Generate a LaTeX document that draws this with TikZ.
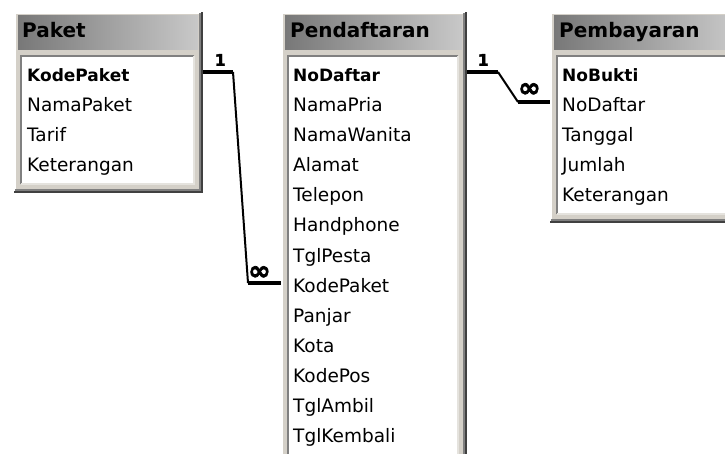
\documentclass[tikz,border=0pt]{standalone}
\usepackage{fontspec}
\setmainfont{DejaVu Sans}
\newfontfamily\heavyfont[FakeBold=2.5]{DejaVu Sans Bold}
\usetikzlibrary{positioning}
\definecolor{winface}{RGB}{212,208,200}
\definecolor{winshadow}{RGB}{128,128,128}
\definecolor{windark}{RGB}{64,64,64}
\definecolor{titledark}{RGB}{120,120,120}
\definecolor{titlelight}{RGB}{200,200,200}
% frame of one table window: left, top, right, bottom (pixels, y down)
\newcommand{\erdframe}[4]{%
  \fill[winface] (#1,#2) rectangle (#3,#4); % face
  \draw[white, line width=1.5] (#1+1,#4) -- (#1+1,#2+1) -- (#3,#2+1); % light edge
  \draw[windark, line width=1.5] (#1,#4-1) -- (#3-1,#4-1) -- (#3-1,#2); % dark edge
  \draw[winshadow, line width=1.5] (#1+1,#4-3) -- (#3-3,#4-3) -- (#3-3,#2+1);
  \shade[left color=titledark, right color=titlelight] (#1+4,#2+4) rectangle (#3-5,#2+38); % title bar
  \fill[white] (#1+7,#2+44) rectangle (#3-9,#4-9); % field list
  \draw[winshadow, line width=1.5] (#1+7,#4-9) -- (#1+7,#2+44) -- (#3-9,#2+44);
  \draw[winface!60, line width=1.5] (#1+7,#4-9) -- (#3-9,#4-9) -- (#3-9,#2+44);
}
\begin{document}
\begin{tikzpicture}[x = 1pt, y = -1pt,
  field/.style = {anchor = base west, inner sep = 0, font = \fontsize{18.5}{20}\selectfont},
  keyfield/.style = {field, font = \fontsize{17}{20}\selectfont\bfseries},
  tabletitle/.style = {anchor = base west, inner sep = 0, font = \fontsize{20}{22}\selectfont\bfseries},
  card/.style = {inner sep = 0, font = \fontsize{16}{16}\selectfont\heavyfont},
  crow/.style = {inner sep = 0, font = \fontsize{27}{27}\selectfont\heavyfont},
  one/.style = {line width = 4},
  many/.style = {line width = 2}]
	\useasboundingbox (0,0) rectangle (725,454);
	\begin{scope}
		\clip (0,0) rectangle (725,454);
		\erdframe{14}{12}{203}{193} %Paket
		\erdframe{281}{12}{467}{470} %Pendaftaran
		\erdframe{550}{12}{740}{223} %Pembayaran
	\end{scope}
	\node[tabletitle] (paket) at (22,38) {Paket};
	\node[tabletitle] (pendaftaran) at (290,38) {Pendaftaran};
	\node[tabletitle] (pembayaran) at (559,38) {Pembayaran};
	\node[keyfield] (paket-1) at (27,82) {KodePaket};
	\foreach \f [count = \i from 2] in {NamaPaket, Tarif, Keterangan}
		\node[field] (paket-\i) at (27,{82 + 30*(\i-1)}) {\f};
	\node[keyfield] (pendaftaran-1) at (293,82) {NoDaftar};
	\foreach \f [count = \i from 2] in {NamaPria, NamaWanita, Alamat, Telepon, Handphone, TglPesta, KodePaket, Panjar, Kota, KodePos, TglAmbil, TglKembali}
		\node[field] (pendaftaran-\i) at (293,{82 + 30*(\i-1)}) {\f};
	\node[keyfield] (pembayaran-1) at (562,82) {NoBukti};
	\foreach \f [count = \i from 2] in {NoDaftar, Tanggal, Jumlah, Keterangan}
		\node[field] (pembayaran-\i) at (562,{82 + 30*(\i-1)}) {\f};
	% Paket 1 -- oo Pendaftaran
	\coordinate (pk-a) at (203,72);
	\coordinate (pk-b) at (233,72);
	\coordinate (pk-c) at (248,283);
	\coordinate (pk-d) at (281,283);
	\draw[one] (pk-a) -- (pk-b);
	\draw[many] (pk-b) -- (pk-c);
	\draw[one] (pk-c) -- (pk-d);
	\node[card, above left = 6pt and 7pt of pk-b] (pk-one) {1};
	\node[crow, above right = 3pt and 0pt of pk-c] (pk-many) {∞};
	% Pendaftaran 1 -- oo Pembayaran
	\coordinate (pb-a) at (467,72);
	\coordinate (pb-b) at (498,72);
	\coordinate (pb-c) at (518,102);
	\coordinate (pb-d) at (550,102);
	\draw[one] (pb-a) -- (pb-b);
	\draw[many] (pb-b) -- (pb-c);
	\draw[one] (pb-c) -- (pb-d);
	\node[card, above left = 6pt and 9pt of pb-b] (pb-one) {1};
	\node[crow, above right = 5pt and 0pt of pb-c] (pb-many) {∞};
\end{tikzpicture}
\end{document}
